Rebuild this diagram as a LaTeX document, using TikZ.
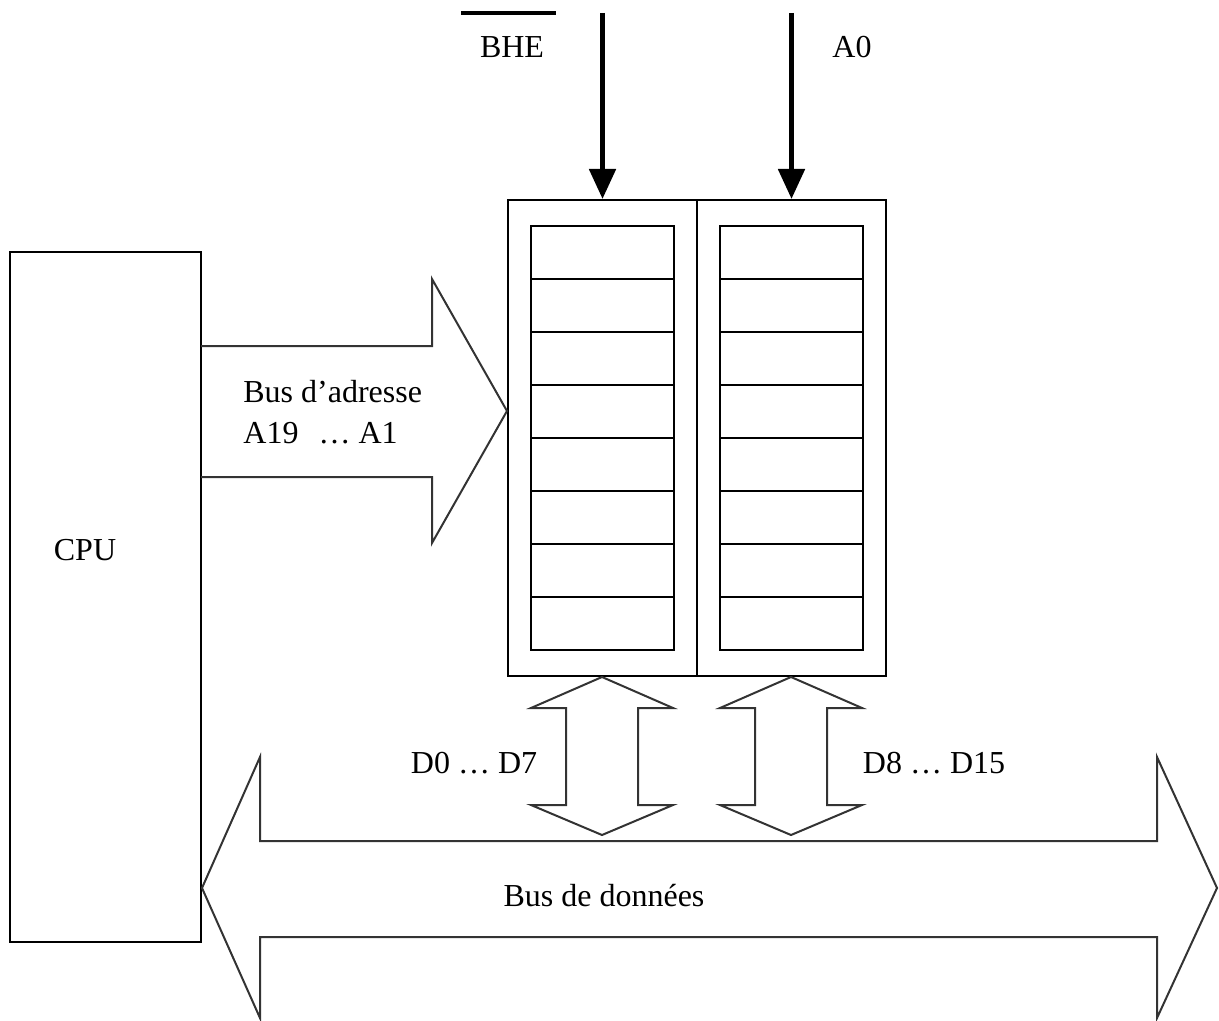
\documentclass[tikz,border=0pt]{standalone}
\usepackage{fontspec}
\setmainfont{Liberation Serif}
\usetikzlibrary{arrows.meta,positioning,calc}

\begin{document}
\begin{tikzpicture}[
    x=0.5pt, y=-0.5pt,
    font=\fontsize{16}{20.5}\selectfont,
    box/.style={draw, line width=1pt, inner sep=0pt},
    bank/.style={box, minimum width=94.5pt, minimum height=238pt},
    cell/.style={box, minimum width=71.5pt, minimum height=26.5pt},
    sig/.style={-{Triangle[length=15pt, width=13pt]}, line width=2.5pt},
    busarr/.style={draw=black!80, line width=1pt, line join=miter},
    lab/.style={inner sep=0pt}
  ]
    \useasboundingbox (0,0) rectangle (1219,1021);
    % CPU and the two memory banks
    \node[box, minimum width=95.5pt, minimum height=345pt] (cpu) at (105.5,597) {};
    \node[lab] (cpulab) at (85,550) {CPU};
    \node[bank] (lbank) at (602.5,438) {};
    \node[bank, right=-1pt of lbank] (rbank) {};
    \foreach \i in {0,...,7}{
      \node[cell] (lc\i) at (602.5,252.5+53*\i) {};
      \node[cell] (rc\i) at (791.5,252.5+53*\i) {};
    }
    % control signals
    \coordinate (bhein) at (lbank.north |- 0,13);
    \coordinate (a0in) at (rbank.north |- 0,13);
    \draw[sig] (bhein) -- (lbank.north);
    \draw[sig] (a0in) -- (rbank.north);
    \node[lab] (bhe) at (512,47) {BHE};
    \draw[line width=2.3pt] (461,13) -- (556,13);
    \node[lab] (a0) at (852,47) {A0};
    % address bus
    \coordinate (adrtip) at (507,411);
    \draw[busarr] (201,346) -- (432,346) -- (432,279) -- (adrtip) -- (432,543) -- (432,477) -- (201,477);
    \node[lab, anchor=west, align=left] (adrlab) at (243,412) {Bus d’adresse\\A19\hspace{6pt} … A1};
    % data lines of each bank
    \foreach \c in {602,791}{
      \draw[busarr] (\c,677) -- (\c+71,708) -- (\c+36,708) -- (\c+36,805) -- (\c+71,805) -- (\c,835)
        -- (\c-71,805) -- (\c-36,805) -- (\c-36,708) -- (\c-71,708) -- cycle;
    }
    \node[lab] (dlow) at (474,763) {D0 … D7};
    \node[lab] (dhigh) at (934,763) {D8 … D15};
    % data bus
    \draw[busarr] (202,888) -- (260,757) -- (260,841) -- (1157,841) -- (1157,757) -- (1217,888)
      -- (1157,1018) -- (1157,937) -- (260,937) -- (260,1018) -- cycle;
    \node[lab] (dbus) at (604,896) {Bus de données};
  \end{tikzpicture}
\end{document}
